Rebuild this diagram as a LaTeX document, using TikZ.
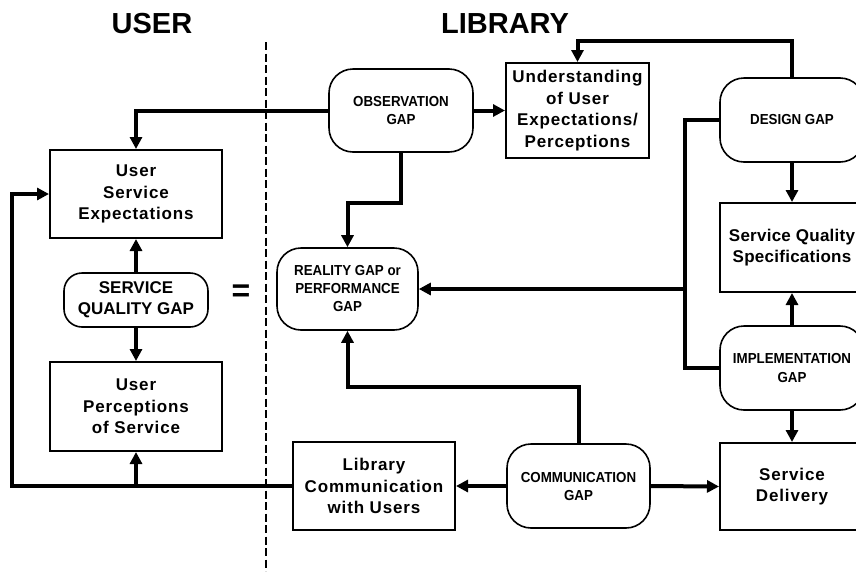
\documentclass[tikz,border=0pt]{standalone}
\usepackage{fontspec}
\setmainfont{Liberation Sans}
\newfontfamily\boxfont{Liberation Sans}[LetterSpace=5]
\newfontfamily\tightboxfont{Liberation Sans}[LetterSpace=1.5]
\newfontfamily\gapfont{Liberation Sans}[FakeStretch=0.92]
\usetikzlibrary{positioning,arrows.meta}

\begin{document}
\begin{tikzpicture}
[x=1pt, y=-1pt,
    box/.style={draw=black, line width=2pt, rectangle, align=center,
        inner sep=0pt,
        font=\boxfont\bfseries\fontsize{17}{21.5}\selectfont},
    gap/.style={draw=black, line width=1.6pt, rectangle,
        rounded corners=24pt, align=center, inner sep=0pt,
        minimum width=144pt, minimum height=84pt,
        font=\gapfont\bfseries\fontsize{14.5}{18}\selectfont},
    conn/.style={line width=4pt},
    arr/.style={conn, -{Triangle[length=12pt,width=12pt]}},
    title/.style={font=\bfseries\fontsize{29}{34}\selectfont},
    ]

    % page size of the original drawing
    \useasboundingbox (0,0) rectangle (856,571);
    \clip (0,0) rectangle (856,571);

    % headings and the user / library border
    \node[title] (usertitle) at (152,24) {USER};
    \node[title] (librarytitle) at (505,24) {LIBRARY};
    \draw[line width=1.3pt, dash pattern=on 8pt off 3.5pt] (266,42) -- (266,571);

    % user side
    \node[box, minimum width=172pt, minimum height=88pt] (expect) at (136,194)
        {User\\Service\\Expectations};
    \node[gap, rounded corners=18pt, minimum width=144pt, minimum height=54pt,
          font=\bfseries\fontsize{17}{21}\selectfont] (sqgap) at (136,300)
        {SERVICE\\QUALITY GAP};
    \node[box, minimum width=172pt, minimum height=89pt] (percept) at (136,406.5)
        {User\\Perceptions\\of Service};
    \node[font=\bfseries\fontsize{32}{32}\selectfont] (equals) at (241,293) {=};

    % library side
    \node[gap, minimum height=83pt] (obsgap) at (401,110.5) {OBSERVATION\\GAP};
    \node[box, minimum width=143pt, minimum height=95pt] (underst) at (577.5,110.5)
        {Understanding\\of User\\Expectations/\\Perceptions};
    \node[gap, minimum width=141pt, minimum height=82pt] (realgap) at (347.5,289)
        {REALITY GAP or\\PERFORMANCE\\GAP};
    \node[gap] (desgap) at (792,120) {DESIGN GAP};
    \node[box, minimum width=144pt, minimum height=89pt,
          font=\tightboxfont\bfseries\fontsize{17}{21.5}\selectfont] (specs) at (792,247.5)
        {Service Quality\\Specifications};
    \node[gap] (impgap) at (792,368) {IMPLEMENTATION\\GAP};
    \node[box, minimum width=162pt, minimum height=88pt] (libcomm) at (374,486)
        {Library\\Communication\\with Users};
    \node[gap, minimum width=143pt] (comgap) at (578.5,486) {COMMUNICATION\\GAP};
    \node[box, minimum width=144pt, minimum height=87pt] (delivery) at (792,486.5)
        {Service\\Delivery};

    % connectors
    \draw[arr] (sqgap.north) -- (expect.south);
    \draw[arr] (sqgap.south) -- (percept.north);
    \draw[arr] (obsgap.west) -| (expect.north);
    \draw[arr] (obsgap.east) -- (underst.west);
    \draw[arr] (obsgap.south) -- ++(0,50) -| (realgap.north);
    \draw[arr] (desgap.north) -- ++(0,-36) -| (underst.north);
    \draw[arr] (desgap.south) -- (specs.north);
    \draw[arr] (impgap.north) -- (specs.south);
    \draw[arr] (impgap.south) -- (delivery.north);

    \coordinate (designjoin) at (685,289);
    \draw[conn] (desgap.west) -| (designjoin) |- (impgap.west);
    \draw[arr] (designjoin) -- (realgap.east);

    \draw[arr] (comgap.north) -- ++(0,-56) -| (realgap.south);
    \draw[arr] (comgap.west) -- (libcomm.east);
    \draw[arr] (comgap.east) -- (delivery.west);
    \draw[arr] (libcomm.west) -- ++(-280,0) |- (expect.west);
    \draw[arr] (percept.south |- libcomm.west) -- (percept.south);

\end{tikzpicture}
\end{document}
